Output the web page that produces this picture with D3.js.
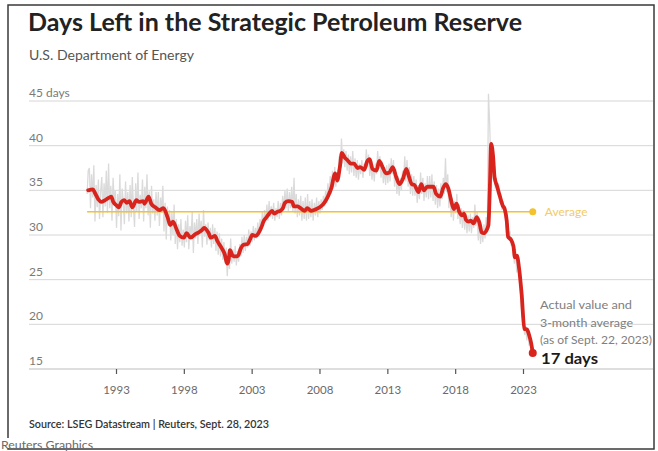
<!DOCTYPE html>
<html><head><meta charset="utf-8">
<script src="https://cdn.jsdelivr.net/npm/d3@7"></script>
<style>
body{margin:0;background:#fff;}
svg{display:block;font-family:Lato,"Open Sans",sans-serif;}
</style>
</head><body>
<svg id="chart" width="658" height="451"></svg>
<script>
// ---------------- DATA ----------------
const title = "Days Left in the Strategic Petroleum Reserve";
const subtitle = "U.S. Department of Energy";
const source = "Source: LSEG Datastream | Reuters, Sept. 28, 2023";
const credit = "Reuters Graphics";
const yTickValues = [15, 20, 25, 30, 35, 40, 45];
const xTickYears = [1993, 1998, 2003, 2008, 2013, 2018, 2023];
const averageDays = 32.6;
const averageLabel = "Average";
const noteLines = ["Actual value and", "3-month average", "(as of Sept. 22, 2023)"];
const lastValueLabel = "17 days";

// actual values (monthly), starting Nov 1990
const actualStart = [1990, 10];
const actualDays = [
  34.6, 37.2,
  37.5, 33.0, 36.8, 34.2, 37.8, 31.5, 35.6, 33.1, 36.2, 31.8, 34.9, 36.5, // 1991
  32.0, 35.8, 33.2, 37.2, 32.5, 38.0, 33.0, 35.5, 31.6, 36.4, 33.5, 35.0, // 1992
  30.8, 34.6, 32.1, 36.8, 30.5, 35.2, 33.8, 31.2, 36.0, 32.4, 34.8, 31.5, // 1993
  35.6, 32.0, 36.5, 33.2, 30.9, 35.8, 32.6, 37.0, 31.8, 34.5, 33.0, 36.2, // 1994
  31.5, 35.4, 33.0, 36.8, 32.2, 34.9, 30.8, 35.5, 32.4, 34.0, 31.6, 34.8, // 1995
  32.2, 34.8, 31.0, 34.2, 32.5, 35.5, 30.4, 33.6, 29.5, 33.2, 31.0, 32.8, // 1996
  29.4, 32.6, 30.0, 33.4, 29.0, 31.8, 28.4, 31.2, 29.2, 31.8, 28.8, 30.6, // 1997
  28.6, 31.6, 29.2, 32.2, 28.4, 31.0, 29.8, 32.6, 28.0, 31.4, 29.6, 31.8, // 1998
  29.0, 32.4, 30.2, 31.6, 28.6, 32.8, 29.8, 31.2, 28.9, 31.4, 29.4, 30.8, // 1999
  28.6, 31.2, 29.0, 30.8, 28.2, 30.4, 27.8, 30.2, 27.6, 29.6, 27.2, 29.2, // 2000
  26.8, 28.6, 25.4, 27.8, 26.2, 29.6, 26.8, 28.4, 27.0, 28.8, 26.6, 28.2, // 2001
  27.0, 29.0, 27.6, 29.8, 28.0, 30.0, 28.2, 29.8, 28.6, 30.6, 28.8, 30.4, // 2002
  29.2, 31.0, 29.4, 30.8, 29.6, 31.4, 29.8, 31.8, 30.4, 32.6, 31.0, 32.8, // 2003
  31.4, 33.4, 31.6, 33.8, 32.0, 33.2, 31.8, 33.6, 31.6, 33.0, 32.0, 33.8, // 2004
  31.8, 33.6, 32.2, 34.4, 32.8, 35.0, 33.0, 35.2, 32.6, 34.8, 33.0, 35.4, // 2005
  32.6, 36.4, 32.4, 34.6, 32.0, 34.0, 32.2, 34.4, 31.6, 33.8, 31.8, 34.2, // 2006
  31.6, 34.6, 31.8, 33.8, 32.0, 34.0, 31.6, 33.6, 32.2, 34.2, 32.0, 33.8, // 2007
  32.4, 34.0, 32.8, 34.4, 33.2, 35.0, 33.6, 35.8, 34.4, 36.6, 34.6, 37.2, // 2008
  35.2, 37.6, 35.4, 37.0, 36.2, 38.8, 37.0, 40.8, 38.0, 39.6, 37.6, 39.4, // 2009
  37.2, 39.0, 36.8, 38.8, 37.0, 39.4, 36.6, 38.6, 36.4, 38.4, 36.2, 38.0, // 2010
  36.8, 38.4, 36.4, 38.0, 37.2, 39.6, 37.6, 39.0, 36.6, 38.2, 36.2, 37.8, // 2011
  36.0, 38.0, 36.8, 39.4, 37.4, 38.8, 36.4, 38.2, 35.8, 37.6, 35.6, 37.8, // 2012
  35.8, 38.0, 36.0, 38.6, 36.8, 38.4, 35.4, 37.4, 34.6, 36.6, 34.4, 36.4, // 2013
  35.0, 37.2, 36.2, 38.8, 36.0, 38.4, 35.4, 37.6, 34.6, 36.8, 34.4, 36.6, // 2014
  34.4, 36.2, 33.6, 35.6, 34.0, 37.0, 34.6, 36.4, 33.8, 35.8, 34.2, 36.6, // 2015
  34.0, 36.6, 34.2, 36.8, 33.8, 36.0, 33.4, 35.6, 33.0, 35.2, 33.2, 35.8, // 2016
  34.0, 36.4, 34.6, 38.6, 34.8, 36.8, 33.0, 35.0, 32.0, 34.2, 31.6, 33.8, // 2017
  32.4, 34.6, 31.8, 33.4, 31.2, 33.0, 30.8, 32.8, 30.6, 32.4, 30.2, 32.2, // 2018
  30.4, 32.4, 30.2, 32.0, 30.8, 33.4, 31.0, 32.6, 29.4, 31.4, 29.0, 31.0, // 2019
  29.2, 31.2, 29.6, 32.0, 30.6, 45.8, 42.8, 38.4, 39.6, 36.2, 37.4, 35.2, // 2020
  36.4, 34.6, 35.8, 33.6, 34.6, 32.8, 33.8, 32.4, 32.8, 30.6, 31.2, 29.4, // 2021
  30.4, 28.8, 29.6, 28.0, 26.8, 28.4, 25.8, 27.8, 25.6, 24.4, 22.0, 20.8, // 2022
  20.2, 18.8, 19.8, 18.2, 19.2, 17.6, 18.4, 16.6, 16.8                    // 2023
];

// 3-month average (decimal year, days)
const avgYears = [
  1990.95,1991.3,1991.45,1991.7,1991.9,1992.2,1992.4,1992.65,1992.8,1993.05,1993.2,1993.4,1993.6,1993.8,
  1994.0,1994.2,1994.5,1994.7,1995.0,1995.1,1995.4,1995.6,1995.9,1996.2,1996.5,1996.8,1997.0,1997.2,
  1997.5,1997.7,1998.0,1998.2,1998.5,1998.85,1999.1,1999.3,1999.5,1999.8,2000.0,2000.3,2000.45,2000.6,
  2000.8,2001.0,2001.2,2001.3,2001.4,2001.6,2001.8,2002.0,2002.2,2002.4,2002.7,2002.85,2003.05,2003.3,
  2003.5,2003.7,2003.9,2004.1,2004.3,2004.5,2004.65,2004.9,2005.1,2005.3,2005.45,2005.7,2006.0,2006.1,
  2006.4,2006.6,2006.9,2007.1,2007.4,2007.6,2007.9,2008.1,2008.35,2008.55,2008.7,2008.9,2009.05,2009.15,
  2009.3,2009.5,2009.65,2009.85,2010.05,2010.3,2010.55,2010.8,2011.0,2011.3,2011.5,2011.7,2011.9,2012.2,
  2012.4,2012.65,2012.9,2013.15,2013.4,2013.65,2013.9,2014.15,2014.4,2014.6,2014.8,2015.0,2015.3,2015.5,
  2015.7,2015.95,2016.15,2016.4,2016.6,2016.9,2017.1,2017.3,2017.5,2017.7,2017.9,2018.1,2018.3,2018.5,
  2018.65,2018.8,2019.0,2019.15,2019.35,2019.6,2019.8,2019.95,2020.1,2020.3,2020.45,2020.55,2020.65,2020.8,
  2020.9,2021.1,2021.3,2021.5,2021.65,2021.8,2021.9,2022.1,2022.3,2022.4,2022.55,2022.7,2022.9,2023.1,
  2023.3,2023.45,2023.6,2023.72
];
const avgDays = [
  35.0,35.1,34.7,34.0,33.7,33.9,34.1,34.3,33.7,33.3,33.1,33.7,33.9,33.6,
  33.8,33.1,33.9,33.7,33.8,33.5,34.3,33.5,33.1,32.8,33.0,32.0,31.1,31.5,
  30.5,29.9,29.7,30.2,29.7,30.1,30.3,30.5,30.8,30.3,29.7,29.9,29.4,29.0,
  28.5,27.9,26.8,27.2,28.3,27.7,27.6,27.7,28.5,28.9,29.0,29.4,30.0,29.9,
  30.2,30.8,31.6,32.0,32.4,32.7,32.4,32.6,32.7,33.0,33.6,33.8,33.7,33.2,
  33.2,33.0,32.7,33.0,32.7,32.8,33.0,33.2,33.6,34.1,34.6,35.4,36.5,36.9,
  36.1,37.6,39.2,38.7,38.4,38.0,38.0,37.5,37.6,37.3,38.2,38.5,37.4,37.2,
  38.3,37.6,36.9,37.0,37.6,36.5,35.7,36.3,37.4,36.5,35.7,35.6,34.8,35.7,
  35.0,35.4,35.4,35.4,34.6,34.3,35.2,35.7,35.2,33.9,32.9,33.5,32.6,32.2,
  32.4,31.7,31.5,31.6,31.3,32.0,31.3,30.3,30.2,30.5,31.1,35.0,40.2,38.7,
  36.5,35.4,34.3,33.3,32.9,31.6,29.8,29.5,28.7,27.5,27.7,26.4,23.4,19.5,
  19.4,18.8,17.9,16.8
];

// ---------------- CHART ----------------
const svg = d3.select("#chart");
const W = 658, H = 451;
svg.append("rect").attr("width", W).attr("height", H).attr("fill", "#fff");

const decYear = y => {
  const yr = Math.floor(y);
  const a = new Date(yr, 0, 1), b = new Date(yr + 1, 0, 1);
  return new Date(+a + (y - yr) * (b - a));
};

const x = d3.scaleTime()
  .domain([new Date(1993, 0, 1), new Date(2023, 0, 1)])
  .range([116, 523]);
const y = d3.scaleLinear().domain([15, 45]).range([369, 101]);

const gridLeft = 29, gridRight = 653;

// gridlines
svg.append("g").selectAll("line").data(yTickValues).join("line")
  .attr("x1", gridLeft).attr("x2", gridRight)
  .attr("y1", d => y(d)).attr("y2", d => y(d))
  .attr("stroke", d => d === 15 ? "#bdbdbd" : "#d6d6d6").attr("stroke-width", 1);

// y labels
svg.append("g").selectAll("text").data(yTickValues).join("text")
  .attr("x", gridLeft).attr("y", d => y(d) - 4)
  .attr("font-size", 12).attr("fill", "#7a7a7a")
  .text(d => d === 45 ? "45 days" : d);

// x axis
const xAxis = d3.axisBottom(x)
  .tickValues(xTickYears.map(v => new Date(v, 0, 1)))
  .tickFormat(d3.timeFormat("%Y"))
  .tickSize(5).tickPadding(12);
const gx = svg.append("g").attr("transform", `translate(0,${y(15)})`).call(xAxis);
gx.select(".domain").remove();
gx.selectAll(".tick line").attr("stroke", "#555").attr("stroke-width", 1.2);
gx.selectAll(".tick text").attr("font-family", "Lato").attr("font-size", 11.5).attr("fill", "#6a6a6a");

// actual series
const actual = actualDays.map((v, i) => ({ date: new Date(actualStart[0], actualStart[1] + i, 15), v }));
const avg = avgYears.map((t, i) => ({ date: decYear(t), v: avgDays[i] }));

svg.append("path").datum(actual)
  .attr("fill", "none").attr("stroke", "#dadada").attr("stroke-width", 1.3)
  .attr("d", d3.line().x(d => x(d.date)).y(d => y(d.v)));

// average line
const avgX0 = x(actual[0].date), avgX1 = x(avg[avg.length - 1].date);
svg.append("line").attr("x1", avgX0).attr("x2", avgX1)
  .attr("y1", y(averageDays)).attr("y2", y(averageDays))
  .attr("stroke", "#f4c22b").attr("stroke-width", 1.5);
svg.append("circle").attr("cx", avgX1).attr("cy", y(averageDays)).attr("r", 3.5).attr("fill", "#f4c22b");
svg.append("text").attr("x", avgX1 + 12).attr("y", y(averageDays) + 4)
  .attr("font-size", 12).attr("fill", "#f2cc66").text(averageLabel);

// 3-month average line
svg.append("path").datum(avg)
  .attr("fill", "none").attr("stroke", "#d8241d").attr("stroke-width", 3.8)
  .attr("stroke-linejoin", "round").attr("stroke-linecap", "round")
  .attr("d", d3.line().curve(d3.curveMonotoneX).x(d => x(d.date)).y(d => y(d.v)));
const last = avg[avg.length - 1];
svg.append("circle").attr("cx", x(last.date)).attr("cy", y(last.v)).attr("r", 4).attr("fill", "#d8241d");

// annotation
const noteWidths = [92, 93, 112];
svg.append("g").selectAll("text").data(noteLines).join("text")
  .attr("x", 540).attr("y", (d, i) => 309 + i * 17.5)
  .attr("font-size", 12).attr("fill", "#808080")
  .attr("textLength", (d, i) => noteWidths[i]).attr("lengthAdjust", "spacingAndGlyphs")
  .text(d => d);
svg.append("text").attr("x", 541).attr("y", 364)
  .attr("font-size", 16).attr("font-weight", 700).attr("fill", "#1a1a1a")
  .attr("textLength", 57).attr("lengthAdjust", "spacingAndGlyphs")
  .text(lastValueLabel);

// titles
svg.append("text").attr("x", 28).attr("y", 31)
  .attr("font-size", 24).attr("font-weight", 700).attr("fill", "#222")
  .attr("textLength", 494).attr("lengthAdjust", "spacingAndGlyphs")
  .text(title);
svg.append("text").attr("x", 29).attr("y", 60)
  .attr("font-size", 14).attr("fill", "#555")
  .attr("textLength", 165).attr("lengthAdjust", "spacingAndGlyphs")
  .text(subtitle);

// footer
svg.append("text").attr("x", 29).attr("y", 428)
  .attr("font-size", 12).attr("font-weight", 600).attr("fill", "#333")
  .attr("textLength", 240).attr("lengthAdjust", "spacingAndGlyphs")
  .text(source);

// frame
svg.append("rect").attr("x", 8).attr("y", 5).attr("width", 646).attr("height", 444)
  .attr("fill", "none").attr("stroke", "#3a3a3a").attr("stroke-width", 1.5);
svg.append("rect").attr("x", 0).attr("y", 438).attr("width", 96).attr("height", 10).attr("fill", "#fff");
svg.append("text").attr("x", 1).attr("y", 449)
  .attr("font-size", 12).attr("fill", "#6a6a6a")
  .attr("textLength", 92).attr("lengthAdjust", "spacingAndGlyphs")
  .text(credit);
</script>
</body></html>
